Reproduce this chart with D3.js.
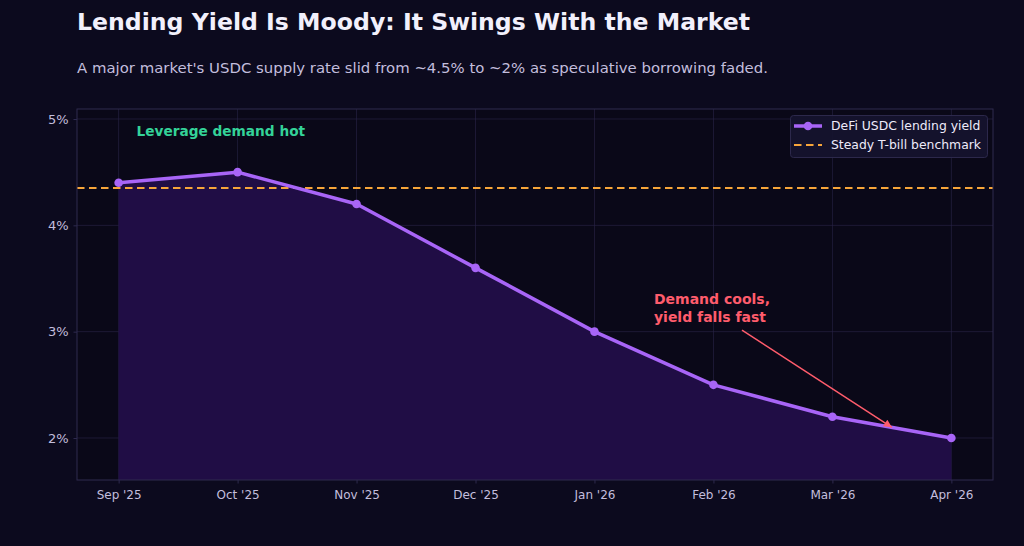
<!DOCTYPE html>
<html><head><meta charset="utf-8">
<script src="https://cdn.jsdelivr.net/npm/d3@7/dist/d3.min.js"></script>
<style>
html,body{margin:0;padding:0;background:#0c0a1e;}
svg{display:block;font-family:"DejaVu Sans",sans-serif;}
</style></head>
<body><svg id="c" width="1024" height="546"></svg>
<script>
const months = ["Sep '25","Oct '25","Nov '25","Dec '25","Jan '26","Feb '26","Mar '26","Apr '26"];
const yieldValues = [4.4, 4.5, 4.2, 3.6, 3.0, 2.5, 2.2, 2.0];
const benchmark = 4.35;
const yTicks = [2, 3, 4, 5];
const seriesNames = ["DeFi USDC lending yield", "Steady T-bill benchmark"];

const svg = d3.select("#c");
const m = {l:77, r:993, t:109, b:480};
const x = d3.scaleLinear().domain([-0.35, 7.35]).range([m.l, m.r]);
const y = d3.scaleLinear().domain([1.605, 5.094]).range([m.b, m.t]);

svg.append("rect").attr("width",1024).attr("height",546).attr("fill","#0c0a1e");
svg.append("rect").attr("x",m.l).attr("y",m.t).attr("width",m.r-m.l).attr("height",m.b-m.t).attr("fill","#0a0818");

// grid
svg.append("g").selectAll("line").data(yTicks).join("line")
  .attr("x1",m.l).attr("x2",m.r).attr("y1",d=>y(d)).attr("y2",d=>y(d))
  .attr("stroke","#2a2548").attr("stroke-width",0.8).attr("opacity",0.8);
svg.append("g").selectAll("line").data(months.map((d,i)=>i)).join("line")
  .attr("y1",m.t).attr("y2",m.b).attr("x1",d=>x(d)).attr("x2",d=>x(d))
  .attr("stroke","#2a2548").attr("stroke-width",0.8).attr("opacity",0.8);

// area
const data = yieldValues.map((v,i)=>({i,v}));
svg.append("path").datum(data)
  .attr("d", d3.area().x(d=>x(d.i)).y0(m.b).y1(d=>y(d.v)))
  .attr("fill","#200d45");

// benchmark
svg.append("line").attr("x1",m.l).attr("x2",m.r).attr("y1",y(benchmark)).attr("y2",y(benchmark))
  .attr("stroke","#f7a53a").attr("stroke-width",2).attr("stroke-dasharray","7.5,4.5");

// line
svg.append("path").datum(data)
  .attr("d", d3.line().x(d=>x(d.i)).y(d=>y(d.v)))
  .attr("fill","none").attr("stroke","#a865f7").attr("stroke-width",3.5).attr("stroke-linejoin","round");
svg.append("g").selectAll("circle").data(data).join("circle")
  .attr("cx",d=>x(d.i)).attr("cy",d=>y(d.v)).attr("r",4.3).attr("fill","#a865f7");

// spines
svg.append("rect").attr("x",m.l).attr("y",m.t).attr("width",m.r-m.l).attr("height",m.b-m.t)
  .attr("fill","none").attr("stroke","#2e2a4e").attr("stroke-width",1);

// axes
const yAxis = d3.axisLeft(y).tickValues(yTicks).tickFormat(d=>d+"%").tickSize(3.5).tickPadding(5);
const gy = svg.append("g").attr("transform",`translate(${m.l},0)`).call(yAxis);
const xAxis = d3.axisBottom(x).tickValues(months.map((d,i)=>i)).tickFormat(i=>months[i]).tickSize(3.5).tickPadding(7);
const gx = svg.append("g").attr("transform",`translate(0,${m.b})`).call(xAxis);
[gy,gx].forEach(g=>{
  g.select(".domain").remove();
  g.selectAll(".tick line").attr("stroke","#2e2a4e");
  g.selectAll(".tick text").attr("fill","#c3bedd").attr("font-size",12).attr("font-family","DejaVu Sans");
});
gy.selectAll(".tick text").attr("font-size",13);

// annotations
svg.append("text").attr("x",x(0.15)).attr("y",131).attr("dy","0.35em")
  .attr("fill","#34d399").attr("font-size",13.7).attr("font-weight","bold").text("Leverage demand hot");

const defs = svg.append("defs");
defs.append("marker").attr("id","ah").attr("viewBox","0 0 10 10").attr("refX",10).attr("refY",5)
  .attr("markerWidth",10).attr("markerHeight",8).attr("orient","auto").attr("markerUnits","userSpaceOnUse")
  .append("path").attr("d","M0,0 L10,5 L0,10 z").attr("fill","#ff5c6c");
svg.append("line").attr("x1",x(5.24)).attr("y1",y(3.015)).attr("x2",x(6.5)).attr("y2",y(2.1))
  .attr("stroke","#ff5c6c").attr("stroke-width",1.5).attr("marker-end","url(#ah)");
const ann = svg.append("text").attr("fill","#ff5c6c").attr("font-size",14).attr("font-weight","bold");
ann.append("tspan").attr("x",x(4.5)).attr("y",304).text("Demand cools,");
ann.append("tspan").attr("x",x(4.5)).attr("y",322).text("yield falls fast");

// legend
const lg = svg.append("g");
lg.append("rect").attr("x",790.5).attr("y",115.5).attr("width",197).attr("height",42).attr("rx",3)
  .attr("fill","#15132e").attr("stroke","#2e2a4e").attr("opacity",0.95);
lg.append("line").attr("x1",794).attr("x2",822).attr("y1",126).attr("y2",126).attr("stroke","#a865f7").attr("stroke-width",3.5);
lg.append("circle").attr("cx",808).attr("cy",126).attr("r",4.3).attr("fill","#a865f7");
lg.append("line").attr("x1",794).attr("x2",822).attr("y1",145).attr("y2",145).attr("stroke","#f7a53a").attr("stroke-width",2).attr("stroke-dasharray","7.5,4.5");
lg.selectAll("text").data(seriesNames).join("text")
  .attr("x",831).attr("y",(d,i)=>126+i*19).attr("dy","0.35em")
  .attr("fill","#eeebfa").attr("font-size",12.4).text(d=>d);

// titles
svg.append("text").attr("x",77).attr("y",30).attr("fill","#f2f0fc").attr("font-size",23.6).attr("font-weight","bold")
  .text("Lending Yield Is Moody: It Swings With the Market");
svg.append("text").attr("x",77).attr("y",73).attr("fill","#c3bedd").attr("font-size",14.9)
  .text("A major market's USDC supply rate slid from ~4.5% to ~2% as speculative borrowing faded.");
</script></body></html>
